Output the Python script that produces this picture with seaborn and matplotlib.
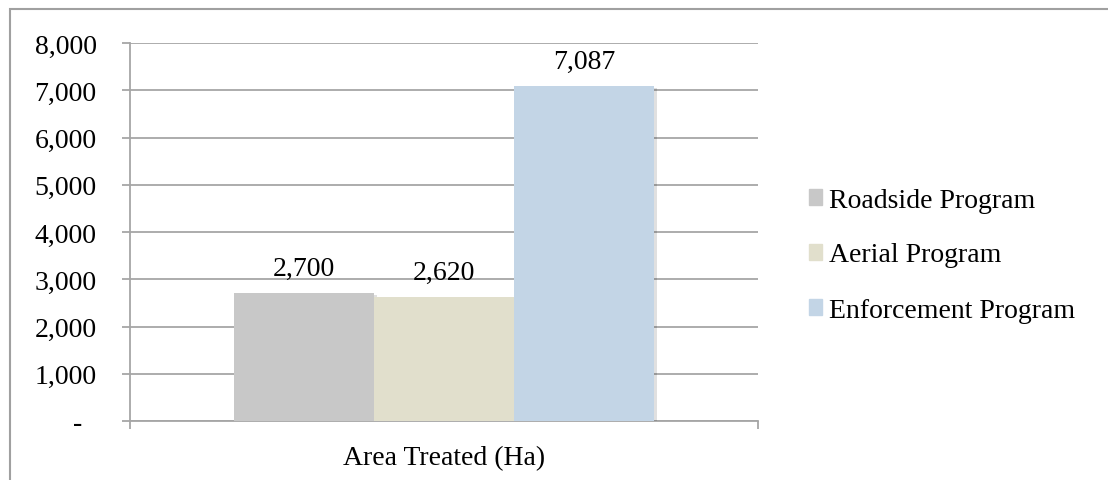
import matplotlib
matplotlib.use("Agg")
import matplotlib.pyplot as plt
import matplotlib.ticker as mticker
import matplotlib.patches as mpatches
import matplotlib.patheffects as pe
import seaborn as sns
import pandas as pd

# Area treated per program
categories = ["Area Treated (Ha)"]
programs = ["Roadside Program", "Aerial Program", "Enforcement Program"]
values = [2700, 2620, 7087]
colors = ["#C8C8C8", "#E1DFCC", "#C3D5E6"]
y_ticks = [0, 1000, 2000, 3000, 4000, 5000, 6000, 7000, 8000]

df = pd.DataFrame({
    "category": categories * len(programs),
    "program": programs,
    "value": values,
})

sns.set_theme(style="white")
plt.rcParams["font.family"] = ["Liberation Serif", "DejaVu Serif"]
plt.rcParams["text.color"] = "black"
plt.rcParams["xtick.color"] = "black"
plt.rcParams["ytick.color"] = "black"

FS = 20
fig = plt.figure(figsize=(11.08, 4.81), dpi=100)
ax = fig.add_axes([130 / 1108, 59 / 481, 628 / 1108, 378 / 481])

grid_c = "#A6A6A6"
sns.barplot(data=df, x="category", y="value", hue="program",
            palette=colors, width=0.668, saturation=1, ax=ax,
            edgecolor="none", linewidth=0, zorder=3)

# soft drop shadow on the bars
for patch in ax.patches:
    patch.set_path_effects([
        pe.SimplePatchShadow(offset=(2, -1), shadow_rgbFace="#000000", alpha=0.12),
        pe.Normal(),
    ])

ax.set_ylim(0, 8000)
ax.set_xlim(-0.5, 0.5)
ax.set_yticks(y_ticks)
# zero is shown as a dash, padded like an accounting format
ax.yaxis.set_major_formatter(mticker.FuncFormatter(
    lambda v, p: "-  " if v == 0 else f"{int(v):,}"))
ax.yaxis.grid(True, color=grid_c, linewidth=1.3, zorder=0)
ax.set_axisbelow(True)

for side in ["top", "right"]:
    ax.spines[side].set_visible(False)
for side in ["left", "bottom"]:
    ax.spines[side].set_color(grid_c)
    ax.spines[side].set_linewidth(1.3)

ax.tick_params(axis="y", which="major", direction="out", length=6,
               width=1.3, color=grid_c, labelcolor="black", labelsize=FS,
               pad=18, left=True)
ax.set_xticks([0])
ax.set_xticklabels(categories)
ax.tick_params(axis="x", which="major", length=0, labelsize=FS,
               labelcolor="black", pad=17)
ax.set_xticks([-0.5, 0.5], minor=True)
ax.tick_params(axis="x", which="minor", direction="out", length=6,
               width=1.3, color=grid_c, bottom=True)
ax.set_xlabel("")
ax.set_ylabel("")

# value labels above each bar
for cont in ax.containers:
    ax.bar_label(cont, labels=[f"{int(v):,}" for v in cont.datavalues],
                 fontsize=FS, padding=9, color="black")

handles = [mpatches.Patch(color=c, label=p) for c, p in zip(colors, programs)]
if ax.get_legend():
    ax.get_legend().remove()
fig.legend(handles=handles, loc="center left",
           bbox_to_anchor=(803 / 1108, 1 - 256 / 481), frameon=False,
           fontsize=FS, handlelength=0.5, handleheight=0.5,
           handletextpad=0.25, labelspacing=1.08, borderaxespad=0,
           borderpad=0.2)

# outer chart border
fig.add_artist(mpatches.Rectangle((10 / 1108, -0.05), 1.2, 1 - 10 / 481 + 0.05,
                                  transform=fig.transFigure, fill=False,
                                  edgecolor="#A0A0A0", linewidth=1.5))

fig.savefig("out.png", dpi=100)
